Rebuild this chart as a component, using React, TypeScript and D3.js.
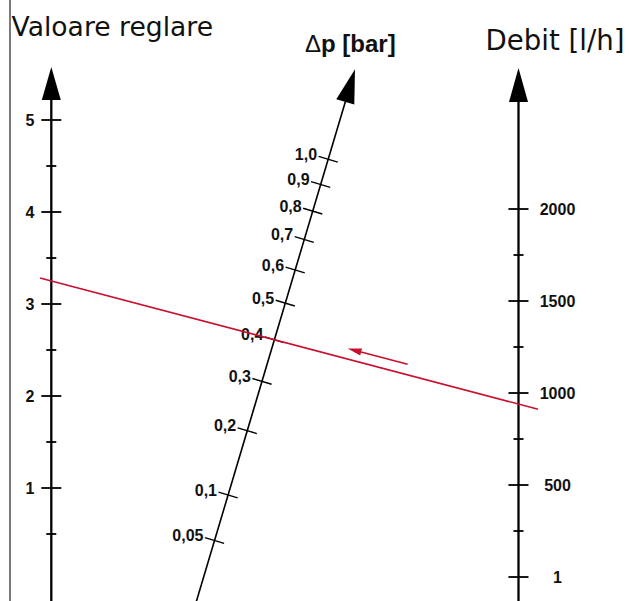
import React from "react";
import * as d3 from "d3";

// ---- data ----
const leftMajor = [1, 2, 3, 4, 5];
const leftMinor = [0.5, 1.5, 2.5, 3.5, 4.5];
const rightMajor = [0, 500, 1000, 1500, 2000];
const rightMajorLabels = ["1", "500", "1000", "1500", "2000"];
const rightMinor = [250, 750, 1250, 1750];
const dpTicks = [0.05, 0.1, 0.2, 0.3, 0.4, 0.5, 0.6, 0.7, 0.8, 0.9, 1.0];
const dpLabels = ["0,05", "0,1", "0,2", "0,3", "0,4", "0,5", "0,6", "0,7", "0,8", "0,9", "1,0"];
// example reading
const exampleReglare = 3.25;
const exampleDebit = 940;

const W = 629;
const H = 601;
const RED = "#c8102e";
const LABEL_FONT = "'Liberation Sans', Arial, sans-serif";
const TITLE_FONT = "'DejaVu Sans', Verdana, sans-serif";

export default function App() {
  const leftX = 51.3;
  const rightX = 518.5;
  const leftScale = d3.scaleLinear().domain([0, 5]).range([580, 120]);
  const rightScale = d3.scaleLinear().domain([0, 2000]).range([577, 209]);

  // diagonal axis (sqrt scale along y)
  const diagBottom = { x: 196.5, y: 601 };
  const diagTip = { x: 355, y: 69.3 };
  const dxdy = (diagTip.x - diagBottom.x) / (diagTip.y - diagBottom.y);
  const dpScale = d3.scaleSqrt().domain([0, 1]).range([650.3, 159.3]);
  const diagX = (y: number) => diagBottom.x + (y - diagBottom.y) * dxdy;
  const len = Math.hypot(diagTip.x - diagBottom.x, diagTip.y - diagBottom.y);
  const u = { x: (diagTip.x - diagBottom.x) / len, y: (diagTip.y - diagBottom.y) / len };
  const n = { x: -u.y, y: u.x }; // pointing right/down
  const arrowLen = 34;
  const arrowHalf = 9.4;
  const diagBase = { x: diagTip.x - u.x * arrowLen, y: diagTip.y - u.y * arrowLen };

  // red reading line
  const yL = leftScale(exampleReglare);
  const yR = rightScale(exampleDebit);
  const slope = (yR - yL) / (rightX - leftX);
  const redY = (x: number) => yL + (x - leftX) * slope;
  const redX0 = 40;
  const redX1 = 538;
  // direction arrow parallel to red line
  const ang = Math.atan(slope);
  const ru = { x: Math.cos(ang), y: Math.sin(ang) };
  const rn = { x: Math.sin(ang), y: -Math.cos(ang) }; // up-ish normal
  const off = 10.2;
  const aTail = { x: 405 + rn.x * off, y: redY(405) + rn.y * off };
  const aTip = { x: 345 + rn.x * off, y: redY(345) + rn.y * off };
  const headL = 14;
  const headW = 3.6;
  const aHeadBase = { x: aTip.x + ru.x * headL, y: aTip.y + ru.y * headL };

  const vArrow = (x: number, tipY: number, baseY: number) =>
    `M${x},${tipY} L${x - 9.5},${baseY} L${x + 9.5},${baseY} Z`;

  const LS = 16;

  return (
    <svg
      width={W}
      height={H}
      style={{ position: "absolute", left: 0, top: 0, background: "#fff" }}
    >
      <rect x={0} y={0} width={W} height={H} fill="#fff" />
      {/* left border */}
      <line x1={10} y1={0} x2={10} y2={H} stroke="#7a7a7a" strokeWidth={2} />

      {/* titles */}
      <text x={11.5} y={35.7} fontFamily={TITLE_FONT} fontSize={26.6} fill="#111">
        Valoare reglare
      </text>
      <text x={485.5} y={49.5} fontFamily={TITLE_FONT} fontSize={27.6} fill="#111">
        Debit [l/h]
      </text>
      <text x={305} y={51.5} fontFamily={LABEL_FONT} fontSize={24} fontWeight="bold" fill="#111">
        <tspan fontWeight="normal">Δ</tspan>p [bar]
      </text>

      {/* left axis */}
      <line x1={leftX} y1={99} x2={leftX} y2={H + 5} stroke="#000" strokeWidth={2.3} />
      <path d={vArrow(leftX, 67, 100)} fill="#000" />
      {leftMajor.map((v) => (
        <g key={"lM" + v}>
          <line x1={leftX - 10} x2={leftX + 10} y1={leftScale(v)} y2={leftScale(v)} stroke="#000" strokeWidth={1.8} />
          <text x={34.5} y={leftScale(v) + 5.6} textAnchor="end" fontFamily={LABEL_FONT} fontWeight="bold" fontSize={LS} fill="#111">
            {v}
          </text>
        </g>
      ))}
      {leftMinor.map((v) => (
        <line key={"lm" + v} x1={leftX - 5} x2={leftX + 5} y1={leftScale(v)} y2={leftScale(v)} stroke="#000" strokeWidth={1.8} />
      ))}

      {/* right axis */}
      <line x1={rightX} y1={101} x2={rightX} y2={H + 5} stroke="#000" strokeWidth={2.3} />
      <path d={vArrow(rightX, 68, 102)} fill="#000" />
      {rightMajor.map((v, i) => (
        <g key={"rM" + v}>
          <line x1={rightX - 10} x2={rightX + 10} y1={rightScale(v)} y2={rightScale(v)} stroke="#000" strokeWidth={1.8} />
          <text x={557.5} y={rightScale(v) + 5.6} textAnchor="middle" fontFamily={LABEL_FONT} fontWeight="bold" fontSize={LS} fill="#111">
            {rightMajorLabels[i]}
          </text>
        </g>
      ))}
      {rightMinor.map((v) => (
        <line key={"rm" + v} x1={rightX - 5} x2={rightX + 5} y1={rightScale(v)} y2={rightScale(v)} stroke="#000" strokeWidth={1.8} />
      ))}

      {/* diagonal Δp axis */}
      <line
        x1={diagX(H + 10)}
        y1={H + 10}
        x2={diagBase.x + u.x * 1}
        y2={diagBase.y + u.y * 1}
        stroke="#000"
        strokeWidth={1.6}
      />
      <path
        d={`M${diagTip.x},${diagTip.y} L${diagBase.x - n.x * arrowHalf},${diagBase.y - n.y * arrowHalf} L${diagBase.x + n.x * arrowHalf},${diagBase.y + n.y * arrowHalf} Z`}
        fill="#000"
      />
      {dpTicks.map((v, i) => {
        const y = dpScale(v);
        const x = diagX(y);
        const lx = x - n.x * 10;
        const ly = y - n.y * 10;
        const rx = x + n.x * 10;
        const ry = y + n.y * 10;
        return (
          <g key={"dp" + v}>
            <line x1={lx} y1={ly} x2={rx} y2={ry} stroke="#000" strokeWidth={1.4} />
            <text x={lx - 1.5} y={ly + 3.5} textAnchor="end" fontFamily={LABEL_FONT} fontWeight="bold" fontSize={LS} fill="#111">
              {dpLabels[i]}
            </text>
          </g>
        );
      })}

      {/* red reading line */}
      <line x1={redX0} y1={redY(redX0)} x2={redX1} y2={redY(redX1)} stroke={RED} strokeWidth={1.6} />
      <line x1={aTail.x} y1={aTail.y} x2={aHeadBase.x} y2={aHeadBase.y} stroke={RED} strokeWidth={1.6} />
      <path
        d={`M${aTip.x},${aTip.y} L${aHeadBase.x + rn.x * headW},${aHeadBase.y + rn.y * headW} L${aHeadBase.x - rn.x * headW},${aHeadBase.y - rn.y * headW} Z`}
        fill={RED}
      />
    </svg>
  );
}
